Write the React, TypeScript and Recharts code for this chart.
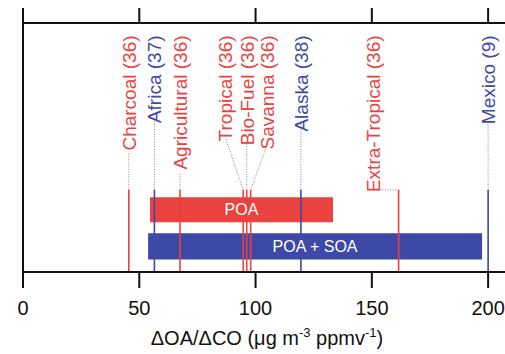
import { ComposedChart, XAxis, YAxis, ReferenceArea, ReferenceLine, Scatter } from "recharts";

// source markers: name, ratio value, which kind (POA = red, POA + SOA = blue)
const markerNames = [
  "Charcoal (36)",
  "Africa (37)",
  "Agricultural (36)",
  "Tropical (36)",
  "Bio-Fuel (36)",
  "Savanna (36)",
  "Alaska (38)",
  "Extra-Tropical (36)",
  "Mexico (9)",
];
const markerValues = [45.5, 56.5, 67.5, 94.7, 96.2, 97.9, 119.5, 161.5, 200];
const markerKinds = ["POA", "POA+SOA", "POA", "POA", "POA", "POA", "POA+SOA", "POA", "POA+SOA"];
// where each rotated label sits on the x scale, and where its leader meets it
const labelAt = [45.5, 56.5, 67.5, 87, 96.2, 105, 119.5, 150.5, 200];
const leaderEnd = [48, 62, 40, 54, 52, 51, 60, 33, 61];

// range bars
const rangeNames = ["POA", "POA + SOA"];
const rangeStart = [54.6, 53.8];
const rangeEnd = [133.3, 197.4];

const xTicks = [0, 50, 100, 150, 200];

const RED = "#e9423f";
const BLUE = "#3d49a6";
const FONT = "'Liberation Sans', Arial, Helvetica, sans-serif";

const LINE_TOP = 33;
const LABEL_TOP = 95;
const rows = [
  [20, 30],
  [5, 15.6],
];

const labelData = markerNames.map((name, i) => ({
  x: labelAt[i],
  y: LABEL_TOP,
  name,
  color: markerKinds[i] === "POA" ? RED : BLUE,
}));

function MarkerLabel({ cx, cy, payload }: any) {
  return (
    <text
      x={cx}
      y={cy}
      dy="0.36em"
      transform={`rotate(-90 ${cx} ${cy})`}
      textAnchor="end"
      fill={payload.color}
      fontSize={19}
      fontFamily={FONT}
    >
      {payload.name}
    </text>
  );
}

function AxisTitle({ viewBox }: any) {
  const x = viewBox.x + viewBox.width / 2 - 6;
  return (
    <text x={x} y={345} textAnchor="middle" fontSize={20} fontFamily={FONT} fill="#111">
      ΔOA/ΔCO (μg m
      <tspan dy={-8} fontSize={13}>-3</tspan>
      <tspan dy={8}> ppmv</tspan>
      <tspan dy={-8} fontSize={13}>-1</tspan>
      <tspan dy={8}>)</tspan>
    </text>
  );
}

const NoTick = () => <g />;

export default function App() {
  return (
    <div style={{ position: "absolute", left: 0, top: 0, width: 505, height: 354, overflow: "hidden", background: "#fff" }}>
      <ComposedChart width={523} height={354} margin={{ top: 0, right: 0, bottom: 0, left: 22 }}>
        <XAxis
          xAxisId="top"
          orientation="top"
          dataKey="x"
          type="number"
          domain={[0, 215]}
          ticks={xTicks}
          allowDataOverflow
          height={23}
          tick={NoTick}
          tickSize={15}
          axisLine={{ stroke: "#111", strokeWidth: 2 }}
          tickLine={{ stroke: "#111", strokeWidth: 2 }}
        />
        <XAxis
          dataKey="x"
          type="number"
          domain={[0, 215]}
          ticks={xTicks}
          allowDataOverflow
          height={82}
          tickSize={16}
          tickMargin={13}
          tick={{ fill: "#111", fontSize: 20, fontFamily: FONT }}
          axisLine={{ stroke: "#111", strokeWidth: 2 }}
          tickLine={{ stroke: "#111", strokeWidth: 2 }}
          label={{ content: AxisTitle }}
        />
        <YAxis
          dataKey="y"
          type="number"
          domain={[0, 100]}
          allowDataOverflow
          width={1}
          tick={NoTick}
          tickLine={false}
          axisLine={{ stroke: "#111", strokeWidth: 2 }}
        />

        {rangeNames.map((name, i) => (
          <ReferenceArea
            key={name}
            x1={rangeStart[i]}
            x2={rangeEnd[i]}
            y1={rows[i][0]}
            y2={rows[i][1]}
            fill={i === 0 ? RED : BLUE}
            fillOpacity={1}
            stroke="none"
            label={{ value: name, position: "center", fill: "#fff", fontSize: 16, fontFamily: FONT }}
          />
        ))}

        {markerValues.map((v, i) => (
          <ReferenceLine
            key={`leader-${i}`}
            segment={[
              { x: v, y: LINE_TOP },
              { x: labelAt[i], y: leaderEnd[i] },
            ]}
            stroke="#8a8a8a"
            strokeWidth={1}
            strokeDasharray="1 1.5"
          />
        ))}

        {markerValues.map((v, i) => (
          <ReferenceLine
            key={`mark-${i}`}
            segment={[
              { x: v, y: 0 },
              { x: v, y: LINE_TOP },
            ]}
            stroke={markerKinds[i] === "POA" ? RED : BLUE}
            strokeWidth={1.6}
          />
        ))}

        <Scatter data={labelData} dataKey="y" isAnimationActive={false} shape={MarkerLabel} />
      </ComposedChart>
    </div>
  );
}
